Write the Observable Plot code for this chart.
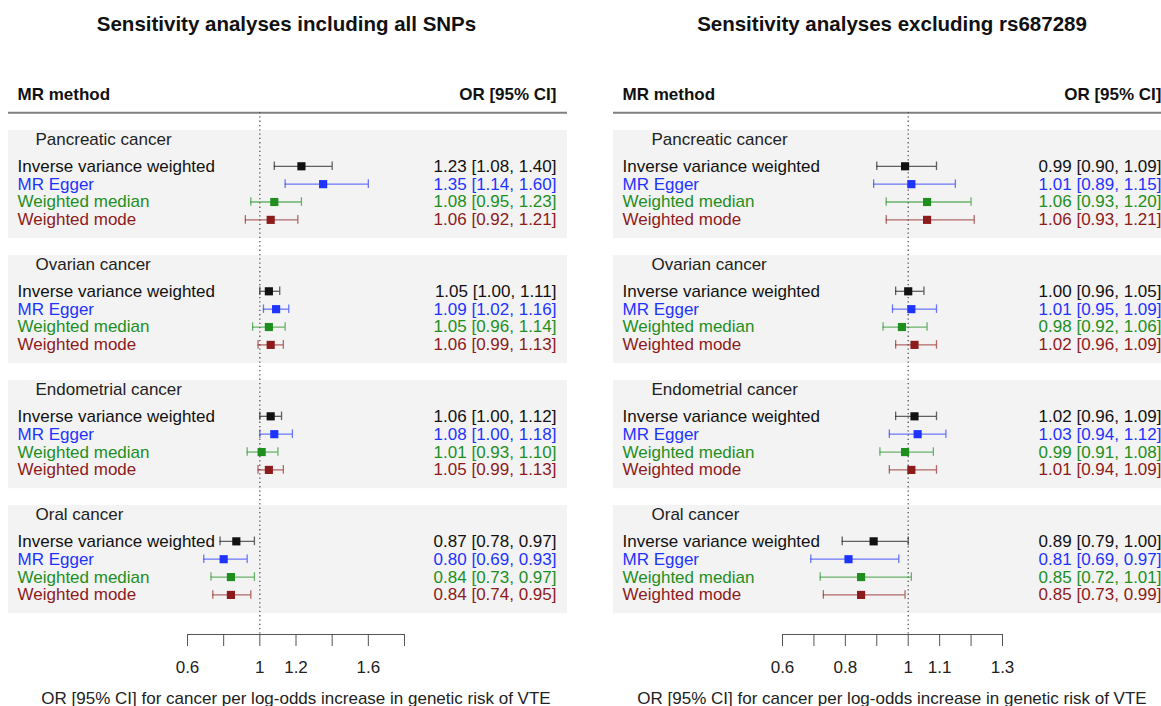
<!DOCTYPE html>
<html>
<head>
<meta charset="utf-8">
<script src="https://cdn.jsdelivr.net/npm/d3@7"></script>
<script src="https://cdn.jsdelivr.net/npm/@observablehq/plot@0.6"></script>
<style>
  html, body { margin: 0; padding: 0; background: #fff; }
  body { font-family: "Liberation Sans", Arial, sans-serif; width: 1161px; height: 706px; overflow: hidden; }
  #wrap { display: flex; }
  .panel { position: relative; }
  .title { height: 48px; line-height: 48px; font-weight: bold; font-size: 20.5px; color: #111; text-align: center; white-space: nowrap; }
  svg { overflow: visible; }
</style>
</head>
<body>
<div id="wrap"></div>
<script>
// ---------- data ----------
const cancers = ["Pancreatic cancer", "Ovarian cancer", "Endometrial cancer", "Oral cancer"];
const methods = ["Inverse variance weighted", "MR Egger", "Weighted median", "Weighted mode"];
const methodColors = ["#111111", "#1f33ff", "#1e8f1e", "#8e1b1b"];

const panelTitles = ["Sensitivity analyses including all SNPs", "Sensitivity analyses excluding rs687289"];
const axisTitle = "OR [95% CI] for cancer per log-odds increase in genetic risk of VTE";

// all SNPs
const allOR = [[1.23, 1.35, 1.08, 1.06], [1.05, 1.09, 1.05, 1.06], [1.06, 1.08, 1.01, 1.05], [0.87, 0.80, 0.84, 0.84]];
const allLo = [[1.08, 1.14, 0.95, 0.92], [1.00, 1.02, 0.96, 0.99], [1.00, 1.00, 0.93, 0.99], [0.78, 0.69, 0.73, 0.74]];
const allHi = [[1.40, 1.60, 1.23, 1.21], [1.11, 1.16, 1.14, 1.13], [1.12, 1.18, 1.10, 1.13], [0.97, 0.93, 0.97, 0.95]];
// excluding rs687289
const exclOR = [[0.99, 1.01, 1.06, 1.06], [1.00, 1.01, 0.98, 1.02], [1.02, 1.03, 0.99, 1.01], [0.89, 0.81, 0.85, 0.85]];
const exclLo = [[0.90, 0.89, 0.93, 0.93], [0.96, 0.95, 0.92, 0.96], [0.96, 0.94, 0.91, 0.94], [0.79, 0.69, 0.72, 0.73]];
const exclHi = [[1.09, 1.15, 1.20, 1.21], [1.05, 1.09, 1.06, 1.09], [1.09, 1.12, 1.08, 1.09], [1.00, 0.97, 1.01, 0.99]];

// axis ticks
const allTicks = [0.6, 0.8, 1, 1.2, 1.4, 1.6, 1.8];
const allTickLabels = ["0.6", "", "1", "1.2", "", "1.6", ""];
const exclTicks = [0.6, 0.7, 0.8, 0.9, 1, 1.1, 1.2, 1.3];
const exclTickLabels = ["0.6", "", "0.8", "", "1", "1.1", "", "1.3"];

// ---------- layout ----------
const FONT = "Liberation Sans, Arial, sans-serif";
const H = 658;            // svg height (below the title)
const MT = 64, MB = 72;   // frame top (header rule) / bottom (axis line)
const UNIT = 8.93;        // px per half-row
const Y0 = 91;            // px of unit 0 (first group header)
const GROUP = 14;         // half-rows per group
const yDomain = [0, 53];
const yRange = [Y0, Y0 + 53 * UNIT];
const axisUnit = (H - MB - Y0) / UNIT;

const fmt = v => v.toFixed(2);

function buildRows(OR, LO, HI) {
  const rows = [];
  cancers.forEach((c, g) => {
    methods.forEach((m, i) => {
      rows.push({
        cancer: c, method: m, color: methodColors[i],
        or: OR[g][i], lo: LO[g][i], hi: HI[g][i],
        y: g * GROUP + 3 + 2 * i,
        label: `${fmt(OR[g][i])} [${fmt(LO[g][i])}, ${fmt(HI[g][i])}]`
      });
    });
  });
  return rows;
}

function panel(opts) {
  const {width, mL, mR, xDomain, xRange, ticks, tickLabels, rows, groupDx, orDx, axisDx, titleShift} = opts;
  const groups = cancers.map((c, g) => ({cancer: c, y: g * GROUP, y1: g * GROUP - 1, y2: g * GROUP + 11.1}));
  const caps = rows.flatMap(d => [{...d, x: d.lo}, {...d, x: d.hi}]);

  const svg = Plot.plot({
    width, height: H,
    marginLeft: mL, marginRight: mR, marginTop: MT, marginBottom: MB,
    style: {fontFamily: FONT, fontSize: "17px", background: "transparent", overflow: "visible"},
    x: {type: "linear", domain: xDomain, range: xRange},
    y: {type: "linear", domain: yDomain, range: yRange, axis: null},
    color: {type: "identity"},
    marks: [
      // group background bands
      Plot.rect(groups, {y1: "y1", y2: "y2", fill: "#f3f3f3"}),
      // header rule
      Plot.ruleY([-3], {stroke: "#808080", strokeWidth: 2}),
      // null line
      Plot.ruleX([1], {stroke: "#555", strokeWidth: 1.3, strokeDasharray: "1.3,3"}),
      // headers
      Plot.text(["MR method"], {frameAnchor: "left", y: () => -5, dx: 9, textAnchor: "start", fontWeight: "bold", fill: "#111", fontSize: 17}),
      Plot.text(["OR [95% CI]"], {frameAnchor: "right", y: () => -5, dx: orDx, textAnchor: "end", fontWeight: "bold", fill: "#111", fontSize: 17}),
      // group headers
      Plot.text(groups, {frameAnchor: "left", y: "y", text: "cancer", dx: groupDx, textAnchor: "start", fill: "#222", fontSize: 17}),
      // method labels
      Plot.text(rows, {frameAnchor: "left", y: "y", text: "method", dx: 9, textAnchor: "start", fill: "color", fontSize: 17}),
      // OR text
      Plot.text(rows, {frameAnchor: "right", y: "y", text: "label", dx: orDx, textAnchor: "end", fill: "color", fontSize: 17}),
      // CI lines
      Plot.ruleY(rows, {y: "y", x1: "lo", x2: "hi", stroke: "color", strokeOpacity: 0.65, strokeWidth: 1.3}),
      Plot.ruleX(caps, {x: "x", y1: d => d.y - 0.48, y2: d => d.y + 0.48, stroke: "color", strokeOpacity: 0.65, strokeWidth: 1.3}),
      // point estimates
      Plot.dot(rows, {x: "or", y: "y", symbol: "square", r: 4.6, fill: "color", stroke: "none"}),
      // axis
      Plot.ruleY([axisUnit], {x1: () => ticks[0], x2: () => ticks[ticks.length - 1], stroke: "#555", strokeWidth: 1.2}),
      Plot.axisX({anchor: "bottom", ticks, tickFormat: (d, i) => tickLabels[i], tickSize: 12, tickPadding: 14,
        stroke: "#555", fill: "#222", fontSize: 17, label: null}),
      Plot.text([axisTitle], {frameAnchor: "bottom", dy: 69, dx: axisDx, textAnchor: "middle", fill: "#222", fontSize: 17})
    ]
  });

  const div = document.createElement("div");
  div.className = "panel";
  div.style.width = width + "px";
  const t = document.createElement("div");
  t.className = "title";
  t.textContent = opts.title;
  t.style.paddingLeft = Math.max(0, 2 * titleShift) + "px";
  t.style.paddingRight = Math.max(0, -2 * titleShift) + "px";
  div.appendChild(t);
  div.appendChild(svg);
  return div;
}

const wrap = document.getElementById("wrap");
wrap.appendChild(panel({
  title: panelTitles[0], width: 580, mL: 8, mR: 13,
  xDomain: [0.6, 1.8], xRange: [187, 404],
  ticks: allTicks, tickLabels: allTickLabels,
  rows: buildRows(allOR, allLo, allHi),
  groupDx: 27, orDx: -11, axisDx: 8, titleShift: -3.5
}));
wrap.appendChild(panel({
  title: panelTitles[1], width: 581, mL: 33, mR: 0,
  xDomain: [0.6, 1.3], xRange: [202, 422],
  ticks: exclTicks, tickLabels: exclTickLabels,
  rows: buildRows(exclOR, exclLo, exclHi),
  groupDx: 38, orDx: 0, axisDx: 4.5, titleShift: 21.5
}));
</script>
</body>
</html>
